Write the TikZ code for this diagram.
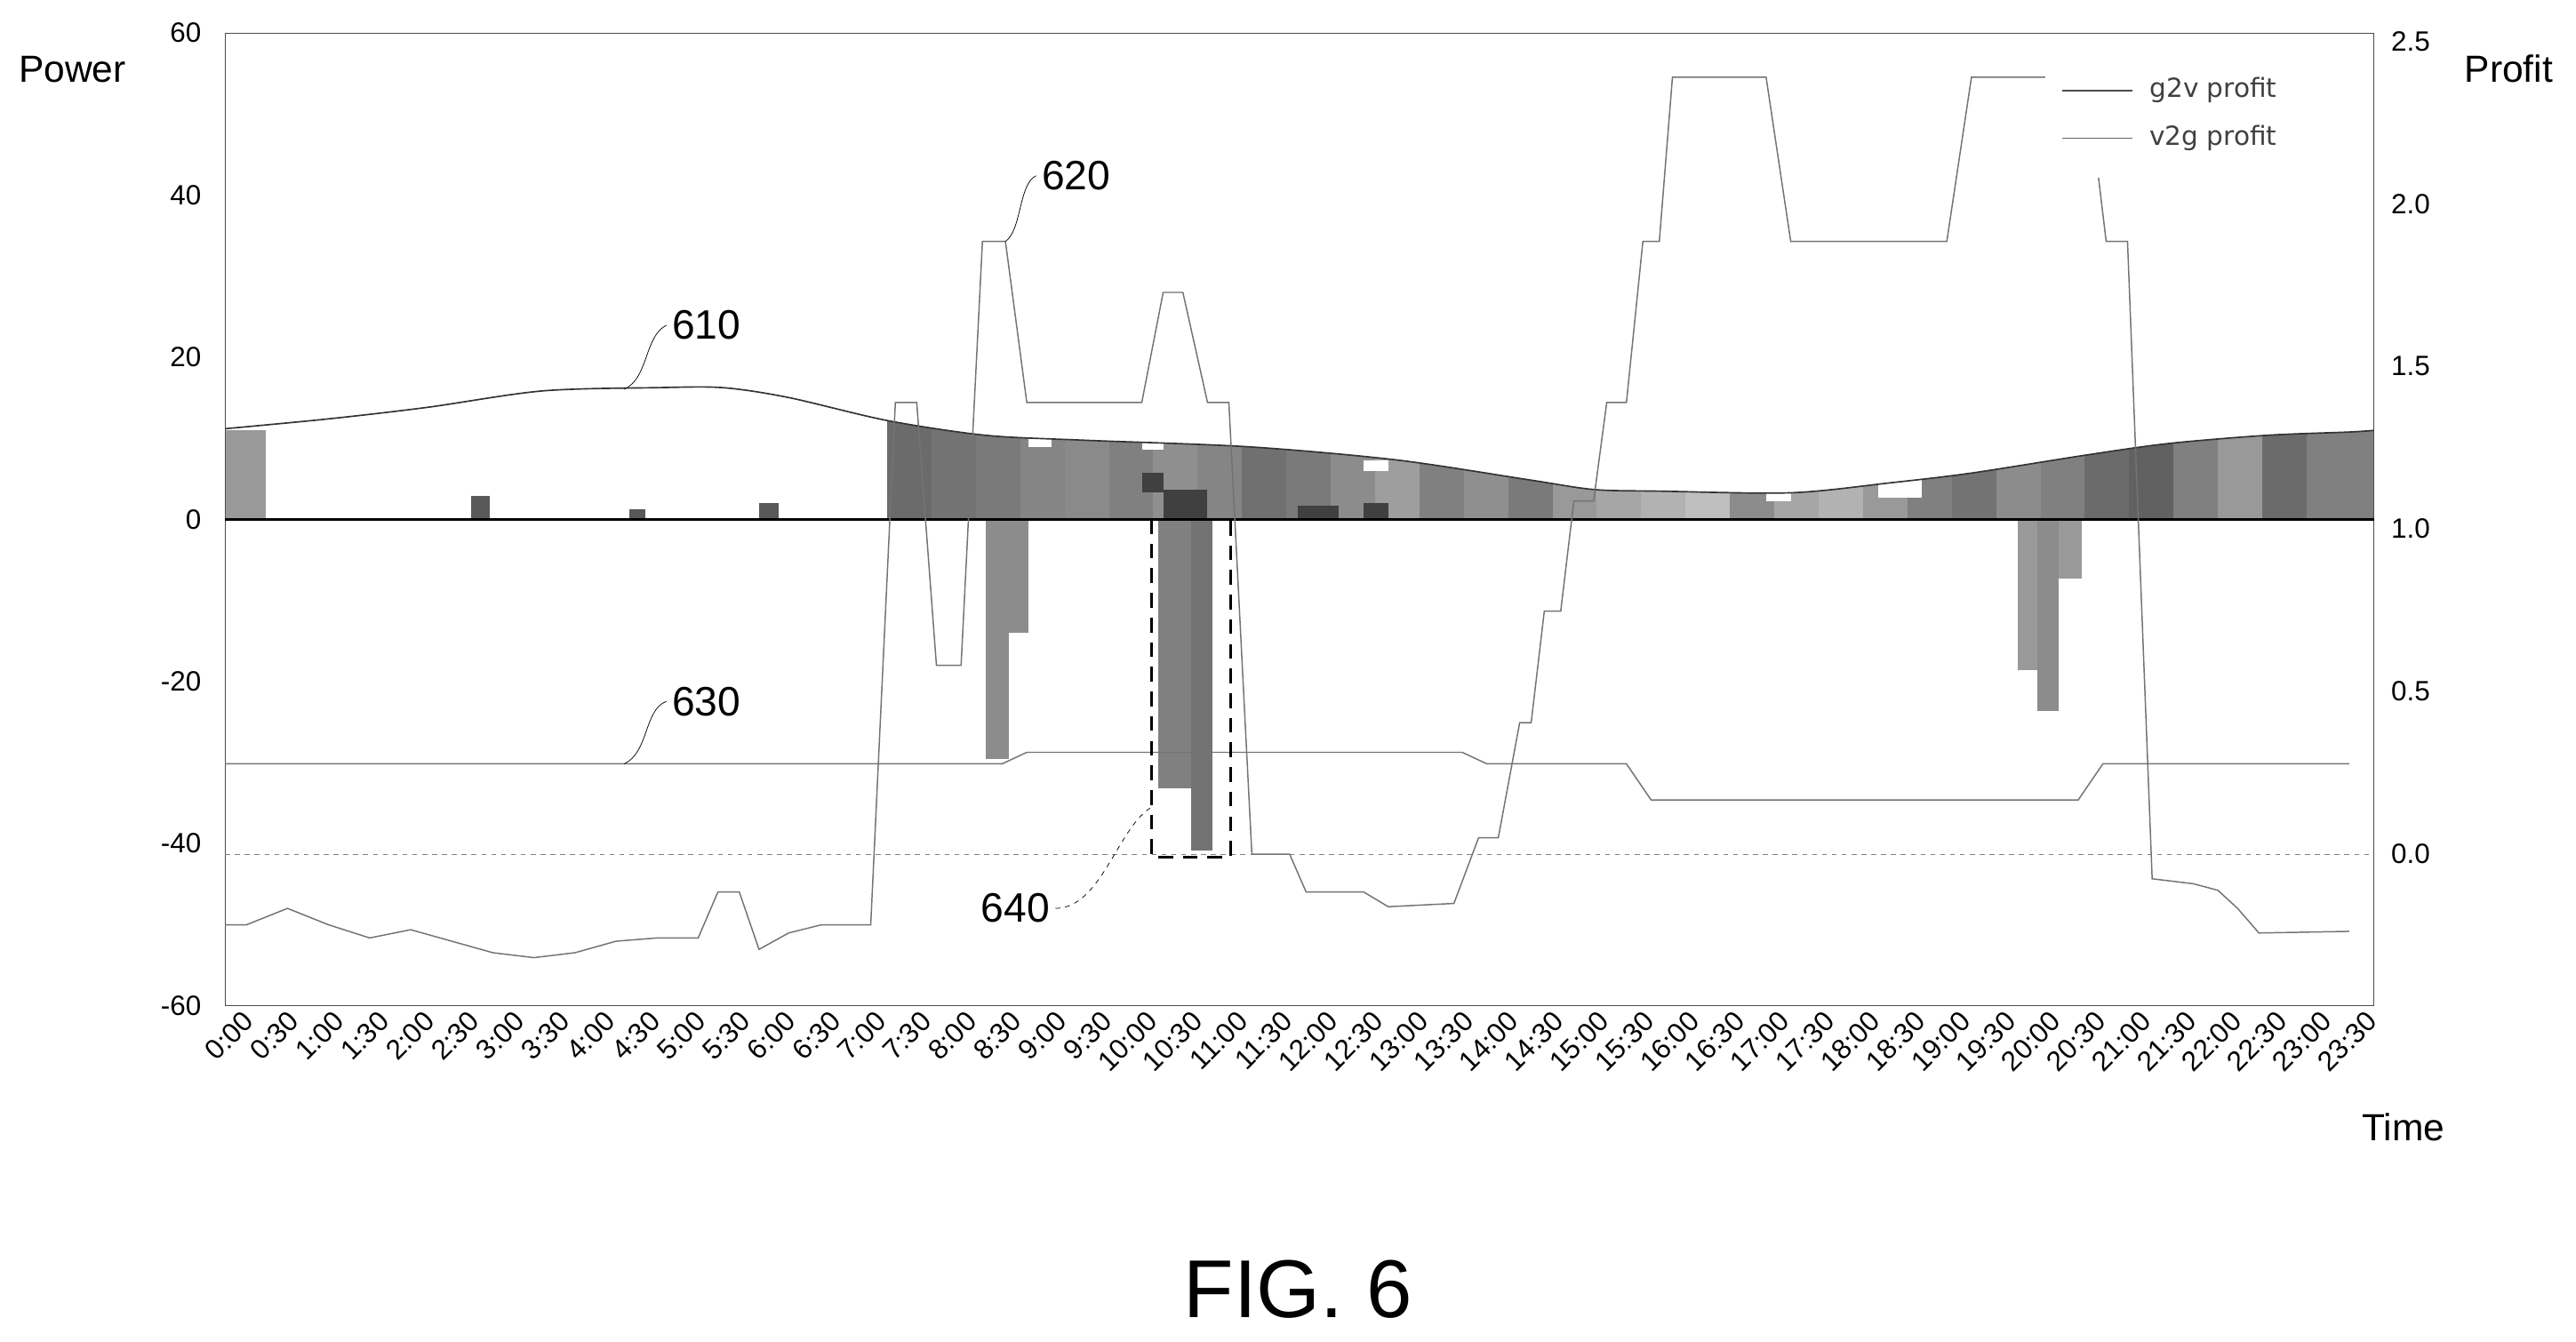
\documentclass[tikz,border=0pt]{standalone}
\usepackage{fontspec}
\setmainfont{Liberation Sans}
\setsansfont{DejaVu Sans}
\usetikzlibrary{calc,positioning}
\tikzstyle{axislabel} = [font=\fontsize{23}{23}\selectfont]
\tikzstyle{ticklabel} = [font=\fontsize{17}{17}\selectfont]
\tikzstyle{refnum} = [font=\fontsize{25}{25}\selectfont]
\tikzstyle{leader} = [draw, thin]
\tikzstyle{gline} = [draw, black!55, line width=0.8pt]

\begin{document}
\begin{tikzpicture}[x=1pt, y=-1pt]
        \useasboundingbox (0,0) rectangle (1568,817);
        % Bars above zero, clipped under curve 610
        \begin{scope}
        \clip (540,316) -- plot[smooth] coordinates {(540,256) (600,265) (660,268) (760,272) (850,280) (930,292) (970,298) (1010,299) (1090,300) (1150,294) (1200,288) (1270,277) (1320,270) (1380,265) (1430,263) (1445,262)} -- (1445,316) -- cycle;
        \foreach \s [count=\i from 15] in {58,55,52,48,46,50,44,48,56,52,45,38,50,44,52,40,35,30,25,45,35,30,40,50,55,45,50,58,62,50,40,58,50} {
            \fill[black!\s] ({135+27*\i},316) rectangle ({135+27*(\i+1)},240);
        }
        \fill[black!50] (1404,316) rectangle (1445,240);
        \fill[black!75] (695,300) rectangle (708,288);
        \fill[black!75] (708,316) rectangle (735,298);
        \fill[black!75] (790,316) rectangle (815,308);
        \fill[black!75] (830,316) rectangle (845,306);
        \fill[white] (626,264) rectangle (640,272);
        \fill[white] (695,264) rectangle (708,274);
        \fill[white] (830,280) rectangle (845,287);
        \fill[white] (1075,297) rectangle (1090,305);
        \fill[white] (1143,290) rectangle (1170,303);
        \fill[white] (1295,266) rectangle (1308,272);
        \end{scope}
        % Small bars at night
        \fill[black!40] (137,316) rectangle (162,262);
        \fill[black!65] (287,316) rectangle (298,302);
        \fill[black!65] (383,316) rectangle (393,310);
        \fill[black!65] (462,316) rectangle (474,306);
        % Bars below zero
        \fill[black!45] (600,316) rectangle (614,462);
        \fill[black!45] (614,316) rectangle (626,385);
        \fill[black!50] (705,316) rectangle (725,480);
        \fill[black!55] (725,316) rectangle (738,518);
        \fill[black!40] (1228,316) rectangle (1240,408);
        \fill[black!45] (1240,316) rectangle (1253,433);
        \fill[black!40] (1253,316) rectangle (1267,352);
        % Frame and axes
        \draw[black!70] (137,20) rectangle (1445,612);
        \draw[line width=1.6pt] (137,316) -- (1445,316);
        \draw[dashed, black!50] (137,520) -- (1445,520);
        \foreach \v [count=\k from 0] in {60,40,20,0,-20,-40,-60} {
            \node[ticklabel, anchor=east] (ly\k) at (126,{20+98.7*\k}) {\v};
        }
        \foreach \v [count=\k from 0] in {2.5,2.0,1.5,1.0,0.5,0.0} {
            \node[ticklabel, anchor=west] (ry\k) at (1452,{25+99*\k}) {\v};
        }
        \foreach \t [count=\i from 0] in {0:00,0:30,1:00,1:30,2:00,2:30,3:00,3:30,4:00,4:30,5:00,5:30,6:00,6:30,7:00,7:30,8:00,8:30,9:00,9:30,10:00,10:30,11:00,11:30,12:00,12:30,13:00,13:30,14:00,14:30,15:00,15:30,16:00,16:30,17:00,17:30,18:00,18:30,19:00,19:30,20:00,20:30,21:00,21:30,22:00,22:30,23:00,23:30} {
            \node[ticklabel, anchor=north east, rotate=45, inner sep=1pt] (tx\i) at ({147+27.5*\i},613) {\t};
        }
        \node[axislabel] (power) at (44,42) {Power};
        \node[axislabel] (profit) at (1527,42) {Profit};
        \node[axislabel] (time) at (1463,686) {Time};
        % Curve 610
        \draw[black!80, line width=0.9pt] plot[smooth] coordinates {(137,261) (200,255) (260,248) (330,238) (400,236) (440,236) (480,242) (540,256) (600,265) (660,268) (760,272) (850,280) (930,292) (970,298) (1010,299) (1090,300) (1150,294) (1200,288) (1270,277) (1320,270) (1380,265) (1430,263) (1445,262)};
        % Curve 620
        \draw[gline] (137,563) -- (150,563) -- (175,553) -- (200,563) -- (225,571) -- (250,566) -- (275,573) -- (300,580) -- (325,583) -- (350,580) -- (375,573) -- (400,571) -- (425,571) -- (437,543) -- (450,543) -- (462,578) -- (480,568) -- (500,563) -- (530,563) -- (545,245) -- (558,245) -- (570,405) -- (585,405) -- (598,147) -- (612,147) -- (625,245) -- (695,245) -- (708,178) -- (720,178) -- (735,245) -- (748,245) -- (762,520) -- (785,520) -- (795,543) -- (830,543) -- (845,552) -- (885,550) -- (900,510) -- (912,510) -- (925,440) -- (932,440) -- (940,372) -- (950,372) -- (958,305) -- (970,305) -- (978,245) -- (990,245) -- (1000,147) -- (1010,147) -- (1018,47) -- (1075,47) -- (1090,147) -- (1185,147) -- (1200,47) -- (1270,47) -- (1282,147) -- (1295,147) -- (1310,535) -- (1335,538) -- (1350,542) -- (1362,553) -- (1375,568) -- (1430,567);
        % Line 630
        \draw[gline] (137,465) -- (610,465) -- (625,458) -- (890,458) -- (905,465) -- (990,465) -- (1005,487) -- (1265,487) -- (1280,465) -- (1430,465);
        % Box 640
        \draw[dashed, line width=1.6pt, dash pattern=on 9pt off 6pt] (701,316) rectangle (749,522);
        % Legend
        \fill[white] (1245,40) rectangle (1440,108);
        \draw[black!70, line width=1pt] (1255,55) -- (1298,55);
        \node[font=\sffamily\fontsize{16}{16}\selectfont, anchor=west, black!75] (g2v) at (1305,55) {g2v profit};
        \draw[black!60] (1255,84) -- (1298,84);
        \node[font=\sffamily\fontsize{16}{16}\selectfont, anchor=west, black!75] (v2g) at (1305,84) {v2g profit};
        % Reference numerals
        \node[refnum] (n610) at (430,198) {610};
        \node[refnum] (n620) at (655,107) {620};
        \node[refnum] (n630) at (430,427) {630};
        \node[refnum] (n640) at (618,553) {640};
        \coordinate (c610) at (380,237);
        \coordinate (c620) at (612,147);
        \coordinate (c630) at (380,465);
        \coordinate (c640) at (700,492);
        \path[leader] (c610) .. controls (395,230) and (392,205) .. (n610.west);
        \path[leader] (c620) .. controls (622,140) and (620,112) .. (n620.west);
        \path[leader] (c630) .. controls (395,458) and (392,432) .. (n630.west);
        \path[leader, dashed] (n640.east) .. controls (670,553) and (680,505) .. (c640);
        \node[font=\fontsize{50}{50}\selectfont] (fig) at (790,785) {FIG. 6};
    \end{tikzpicture}
\end{document}
